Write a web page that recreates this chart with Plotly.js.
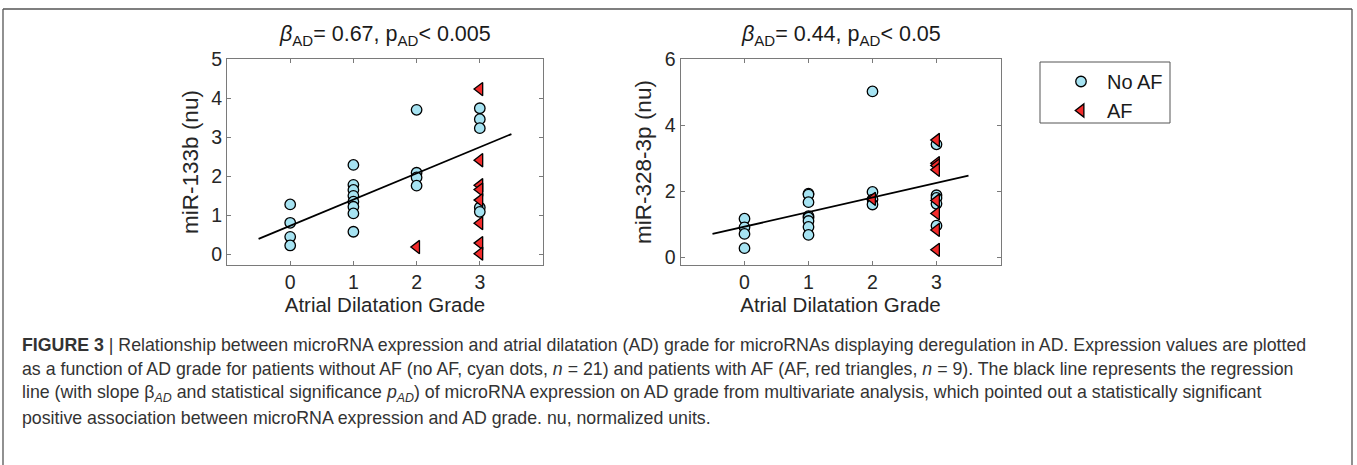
<!DOCTYPE html>
<html>
<head>
<meta charset="utf-8">
<script src="https://cdn.plot.ly/plotly-3.0.1.min.js"></script>
<style>html,body{margin:0;padding:0;background:#fff;}#chart{width:1357px;height:465px;}</style>
</head>
<body>
<div id="chart"></div>
<script>
// ---- data ----
const gradeTicks = [0, 1, 2, 3];
const gradeTickLabels = ['0', '1', '2', '3'];

// miR-133b
const noAF133_x = [0,0,0,0, 1,1,1,1,1,1,1,1, 2,2,2,2, 3,3,3,3,3];
const noAF133_y = [1.28,0.81,0.45,0.23, 2.29,1.78,1.65,1.50,1.35,1.22,1.05,0.58, 3.70,2.09,1.97,1.76, 3.74,3.46,3.23,1.20,1.09];
const AF133_x = [2, 3,3,3,3,3,3,3,3];
const AF133_y = [0.19, 4.23,2.41,1.77,1.66,1.39,0.80,0.29,0.02];
const reg133_x = [-0.5, 3.5];
const reg133_y = [0.40, 3.08];

// miR-328-3p
const noAF328_x = [0,0,0,0, 1,1,1,1,1,1,1,1, 2,2,2,2, 3,3,3,3,3];
const noAF328_y = [1.17,0.91,0.71,0.28, 1.93,1.90,1.67,1.25,1.20,1.10,0.92,0.68, 5.02,1.98,1.75,1.60, 3.42,1.88,1.80,1.62,0.96];
const AF328_x = [2, 3,3,3,3,3,3,3,3];
const AF328_y = [1.77, 3.55,2.85,2.78,2.65,1.72,1.33,0.83,0.23];
const reg328_x = [-0.5, 3.5];
const reg328_y = [0.71, 2.47];

const seriesNames = ['No AF', 'AF'];
const panelTitles = ['<i>β</i><sub>AD</sub>= 0.67, p<sub>AD</sub>&lt; 0.005', '<i>β</i><sub>AD</sub>= 0.44, p<sub>AD</sub>&lt; 0.05'];
const yTitles = ['miR-133b (nu)', 'miR-328-3p (nu)'];
const xTitle = 'Atrial Dilatation Grade';
const captionLines = [
  '<b>FIGURE 3</b> | Relationship between microRNA expression and atrial dilatation (AD) grade for microRNAs displaying deregulation in AD. Expression values are plotted',
  'as a function of AD grade for patients without AF (no AF, cyan dots, <i>n</i> = 21) and patients with AF (AF, red triangles, <i>n</i> = 9). The black line represents the regression',
  'line (with slope β<sub><i>AD</i></sub> and statistical significance <i>p<sub>AD</sub></i>) of microRNA expression on AD grade from multivariate analysis, which pointed out a statistically significant',
  'positive association between microRNA expression and AD grade. nu, normalized units.'
];

// ---- styling ----
const W = 1357, H = 465;
const CYAN = '#a6e3f2', RED = '#f22b2b';
const FONT = 'Liberation Sans, Arial, Helvetica, sans-serif';
const px = v => v / W;
const py = v => 1 - v / H;

function circleTrace(x, y, xa, ya, show) {
  return {x, y, xaxis: xa, yaxis: ya, type: 'scatter', mode: 'markers', name: seriesNames[0], showlegend: show,
    marker: {symbol: 'circle', size: 10.5, color: CYAN, line: {color: '#000', width: 1.3}}};
}
function triTrace(x, y, xa, ya, show) {
  return {x, y, xaxis: xa, yaxis: ya, type: 'scatter', mode: 'markers', name: seriesNames[1], showlegend: show,
    marker: {symbol: 'triangle-left', size: 11.5, color: RED, line: {color: '#000', width: 1.3}}};
}
function lineTrace(x, y, xa, ya) {
  return {x, y, xaxis: xa, yaxis: ya, type: 'scatter', mode: 'lines', showlegend: false, hoverinfo: 'skip',
    line: {color: '#000', width: 1.8}};
}

const data = [
  circleTrace(noAF133_x, noAF133_y, 'x', 'y', true),
  triTrace(AF133_x, AF133_y, 'x', 'y', true),
  lineTrace(reg133_x, reg133_y, 'x', 'y'),
  circleTrace(noAF328_x, noAF328_y, 'x2', 'y2', false),
  triTrace(AF328_x, AF328_y, 'x2', 'y2', false),
  lineTrace(reg328_x, reg328_y, 'x2', 'y2')
];

const axCommon = {
  showline: true, linecolor: '#7a7a7a', linewidth: 1, mirror: 'ticks',
  ticks: 'inside', ticklen: 4, tickcolor: '#7a7a7a', tickwidth: 1,
  showgrid: false, zeroline: false,
  tickfont: {family: FONT, size: 19.5, color: '#262626'}
};
const xAx = (dom, anchor) => Object.assign({}, axCommon, {
  domain: dom, anchor: anchor, range: [-1, 4], tickvals: gradeTicks, ticktext: gradeTickLabels,
  title: {text: xTitle, font: {family: FONT, size: 20.5, color: '#262626'}, standoff: 2}
});

const L1 = 227, R1 = 543, L2 = 680.5, R2 = 1000.5, TOP = 59, BOT = 265;

const layout = {
  width: W, height: H, margin: {l: 0, r: 0, t: 0, b: 0},
  paper_bgcolor: '#fff', plot_bgcolor: '#fff',
  font: {family: FONT, color: '#262626'},
  xaxis: xAx([px(L1), px(R1)], 'y'),
  yaxis: Object.assign({}, axCommon, {domain: [py(BOT), py(TOP)], anchor: 'x', range: [-0.27, 5], tickvals: [0,1,2,3,4,5],
    title: {text: yTitles[0], font: {family: FONT, size: 22.5, color: '#262626'}, standoff: 6}}),
  xaxis2: xAx([px(L2), px(R2)], 'y2'),
  yaxis2: Object.assign({}, axCommon, {domain: [py(BOT), py(TOP)], anchor: 'x2', range: [-0.23, 6], tickvals: [0,2,4,6],
    title: {text: yTitles[1], font: {family: FONT, size: 22.5, color: '#262626'}, standoff: 6}}),
  showlegend: true,
  legend: {x: px(1055), y: py(62), xanchor: 'left', yanchor: 'top', bgcolor: 'rgba(0,0,0,0)', borderwidth: 0,
    font: {family: FONT, size: 20, color: '#1a1a1a'}, tracegroupgap: 0, itemsizing: 'trace', itemwidth: 42},
  shapes: [
    {type: 'rect', xref: 'paper', yref: 'paper', x0: px(1040), x1: px(1170), y0: py(123), y1: py(62), line: {color: '#555', width: 1}},
    {type: 'line', xref: 'paper', yref: 'paper', x0: px(3), x1: px(1352), y0: py(9), y1: py(9), line: {color: '#555', width: 1.3}},
    {type: 'line', xref: 'paper', yref: 'paper', x0: px(3), x1: px(3), y0: py(9), y1: py(470), line: {color: '#555', width: 1.3}},
    {type: 'line', xref: 'paper', yref: 'paper', x0: px(1352), x1: px(1352), y0: py(9), y1: py(470), line: {color: '#555', width: 1.3}}
  ],
  annotations: [
    {text: panelTitles[0], xref: 'paper', yref: 'paper', x: px((L1 + R1) / 2), y: py(36), xanchor: 'center', yanchor: 'middle', showarrow: false,
      font: {family: FONT, size: 21.5, color: '#1a1a1a'}},
    {text: panelTitles[1], xref: 'paper', yref: 'paper', x: px((L2 + R2) / 2), y: py(36), xanchor: 'center', yanchor: 'middle', showarrow: false,
      font: {family: FONT, size: 21.5, color: '#1a1a1a'}}
  ].concat(captionLines.map((t, i) => ({
    text: t, xref: 'paper', yref: 'paper', x: px(20), y: py(345 + i * 24.4), xanchor: 'left', yanchor: 'middle', showarrow: false,
    font: {family: FONT, size: 17.75, color: '#333'}
  })))
};

Plotly.newPlot('chart', data, layout, {staticPlot: true, displayModeBar: false});
</script>
</body>
</html>
